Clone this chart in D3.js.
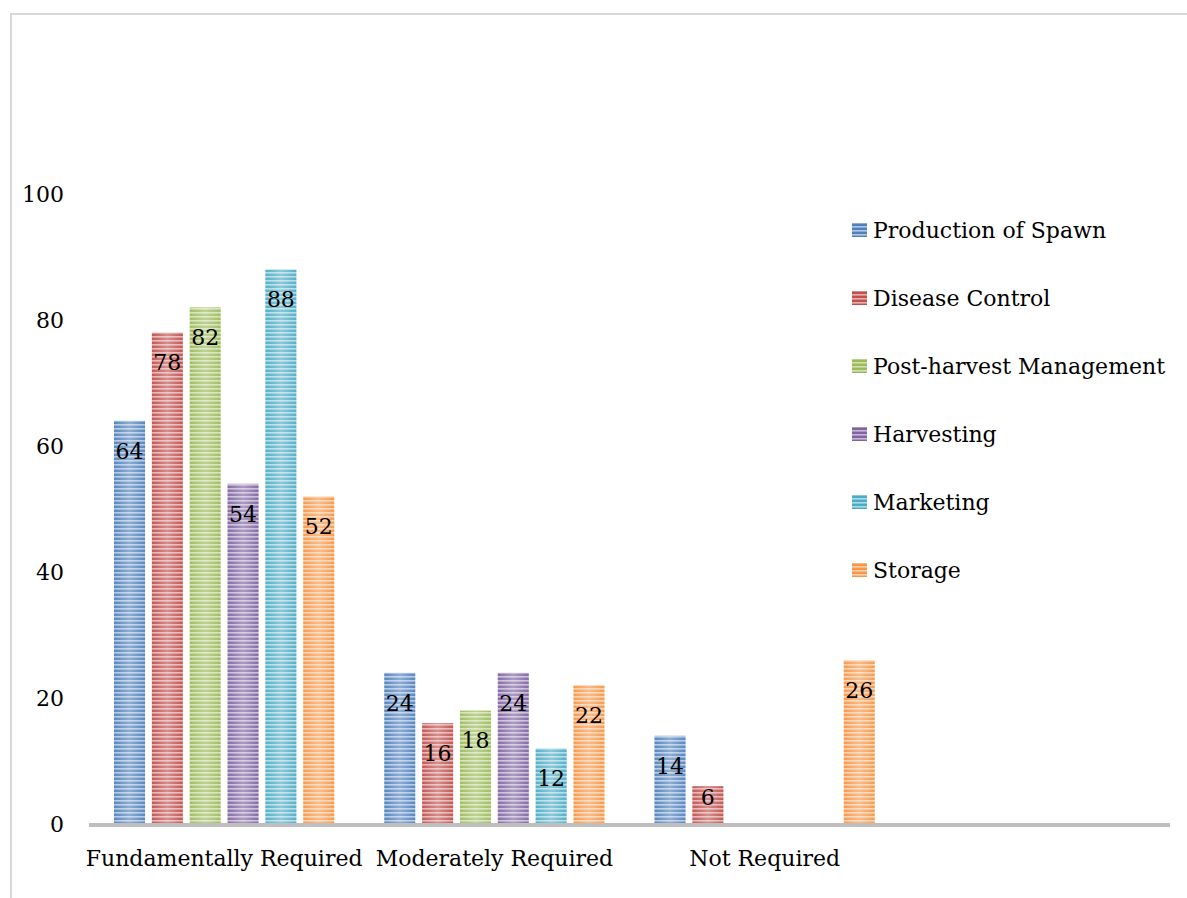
<!DOCTYPE html>
<html>
<head>
<meta charset="utf-8">
<script src="https://cdnjs.cloudflare.com/ajax/libs/d3/7.8.5/d3.min.js"></script>
<style>
  body { margin: 0; background: #fff; }
  text { font-family: "DejaVu Serif", serif; fill: #000; }
</style>
</head>
<body>
<div id="chart"></div>
<script>
var categories = ["Fundamentally Required", "Moderately Required", "Not Required", ""];
var seriesNames = ["Production of Spawn", "Disease Control", "Post-harvest Management", "Harvesting", "Marketing", "Storage"];
var seriesColors = ["#4F81BD", "#C0504D", "#9BBB59", "#8064A2", "#4BACC6", "#F79646"];
var spawnValues = [64, 24, 14];
var diseaseValues = [78, 16, 6];
var postHarvestValues = [82, 18, null];
var harvestingValues = [54, 24, null];
var marketingValues = [88, 12, null];
var storageValues = [52, 22, 26];
var yTicks = [0, 20, 40, 60, 80, 100];

var allSeries = [spawnValues, diseaseValues, postHarvestValues, harvestingValues, marketingValues, storageValues];

var width = 1187, height = 898;
var plotLeft = 89, plotRight = 1170, baseline = 824, plotTop = 194;

var svg = d3.select("#chart").append("svg")
  .attr("width", width)
  .attr("height", height);

// frame
svg.append("path")
  .attr("d", "M11," + height + "V14H" + width)
  .attr("fill", "none")
  .attr("stroke", "#d9d9d9")
  .attr("stroke-width", 2);

var defs = svg.append("defs");
seriesColors.forEach(function(c, i) {
  var light = d3.interpolateRgb(c, "#ffffff")(0.55);
  var p = defs.append("pattern")
    .attr("id", "stripe" + i)
    .attr("patternUnits", "userSpaceOnUse")
    .attr("width", 8)
    .attr("height", 4);
  p.append("rect").attr("width", 8).attr("height", 4).attr("fill", c);
  p.append("rect").attr("y", 0).attr("width", 8).attr("height", 1.6).attr("fill", light);
});
var grad = defs.append("linearGradient").attr("id", "shine").attr("x1", "0").attr("x2", "1").attr("y1", "0").attr("y2", "0");
grad.append("stop").attr("offset", "0").attr("stop-color", "#fff").attr("stop-opacity", 0.05);
grad.append("stop").attr("offset", "0.5").attr("stop-color", "#fff").attr("stop-opacity", 0.35);
grad.append("stop").attr("offset", "1").attr("stop-color", "#fff").attr("stop-opacity", 0.05);

var x0 = d3.scaleBand().domain(categories).range([plotLeft, plotRight]);
var x1 = d3.scaleBand().domain(d3.range(seriesNames.length)).range([25, x0.bandwidth() - 25]).paddingInner(0.18);
var y = d3.scaleLinear().domain([0, 100]).range([baseline, plotTop]);

// y axis labels
var yAxis = svg.append("g")
  .attr("transform", "translate(64,0)")
  .call(d3.axisLeft(y).tickValues(yTicks).tickSize(0).tickPadding(0));
yAxis.select(".domain").remove();
yAxis.selectAll("text").style("font-family", "DejaVu Serif, serif").style("font-size", "22px").attr("fill", "#000");

// bars
var bars = [];
allSeries.forEach(function(vals, si) {
  vals.forEach(function(v, ci) {
    if (v === null) return;
    bars.push({ s: si, c: categories[ci], v: v });
  });
});

var g = svg.append("g").attr("class", "bars");
g.selectAll("rect.bar")
  .data(bars)
  .enter()
  .append("rect")
  .attr("class", "bar")
  .attr("x", function(d) { return x0(d.c) + x1(d.s); })
  .attr("y", function(d) { return y(d.v); })
  .attr("width", x1.bandwidth())
  .attr("height", function(d) { return baseline - y(d.v); })
  .attr("fill", function(d) { return "url(#stripe" + d.s + ")"; });
g.selectAll("rect.shine")
  .data(bars)
  .enter()
  .append("rect")
  .attr("class", "shine")
  .attr("x", function(d) { return x0(d.c) + x1(d.s); })
  .attr("y", function(d) { return y(d.v); })
  .attr("width", x1.bandwidth())
  .attr("height", function(d) { return baseline - y(d.v); })
  .attr("fill", "url(#shine)");

g.selectAll("text.lbl")
  .data(bars)
  .enter()
  .append("text")
  .attr("class", "lbl")
  .attr("x", function(d) { return x0(d.c) + x1(d.s) + x1.bandwidth() / 2; })
  .attr("y", function(d) { return Math.min(y(d.v) + 30, baseline - 27); })
  .attr("dy", "0.35em")
  .attr("text-anchor", "middle")
  .style("font-size", "22px")
  .text(function(d) { return d.v; });

// x axis
svg.append("line")
  .attr("x1", plotLeft).attr("x2", plotRight)
  .attr("y1", baseline + 1).attr("y2", baseline + 1)
  .attr("stroke", "#bfbfbf")
  .attr("stroke-width", 4);

var xAxis = svg.append("g")
  .attr("transform", "translate(0," + baseline + ")")
  .call(d3.axisBottom(x0).tickSize(0).tickPadding(0));
xAxis.select(".domain").remove();
xAxis.selectAll("text")
  .attr("y", 42)
  .attr("dy", 0)
  .style("font-family", "DejaVu Serif, serif")
  .style("font-size", "22px")
  .attr("fill", "#000");

// legend
var legend = svg.append("g").attr("class", "legend");
var items = legend.selectAll("g")
  .data(seriesNames)
  .enter()
  .append("g")
  .attr("transform", function(d, i) { return "translate(852," + (230 + i * 68) + ")"; });
items.append("rect")
  .attr("x", 0).attr("y", -7)
  .attr("width", 15).attr("height", 14)
  .attr("fill", function(d, i) { return "url(#stripe" + i + ")"; });
items.append("text")
  .attr("x", 21)
  .attr("dy", "0.35em")
  .style("font-size", "22px")
  .text(function(d) { return d; });
</script>
</body>
</html>
